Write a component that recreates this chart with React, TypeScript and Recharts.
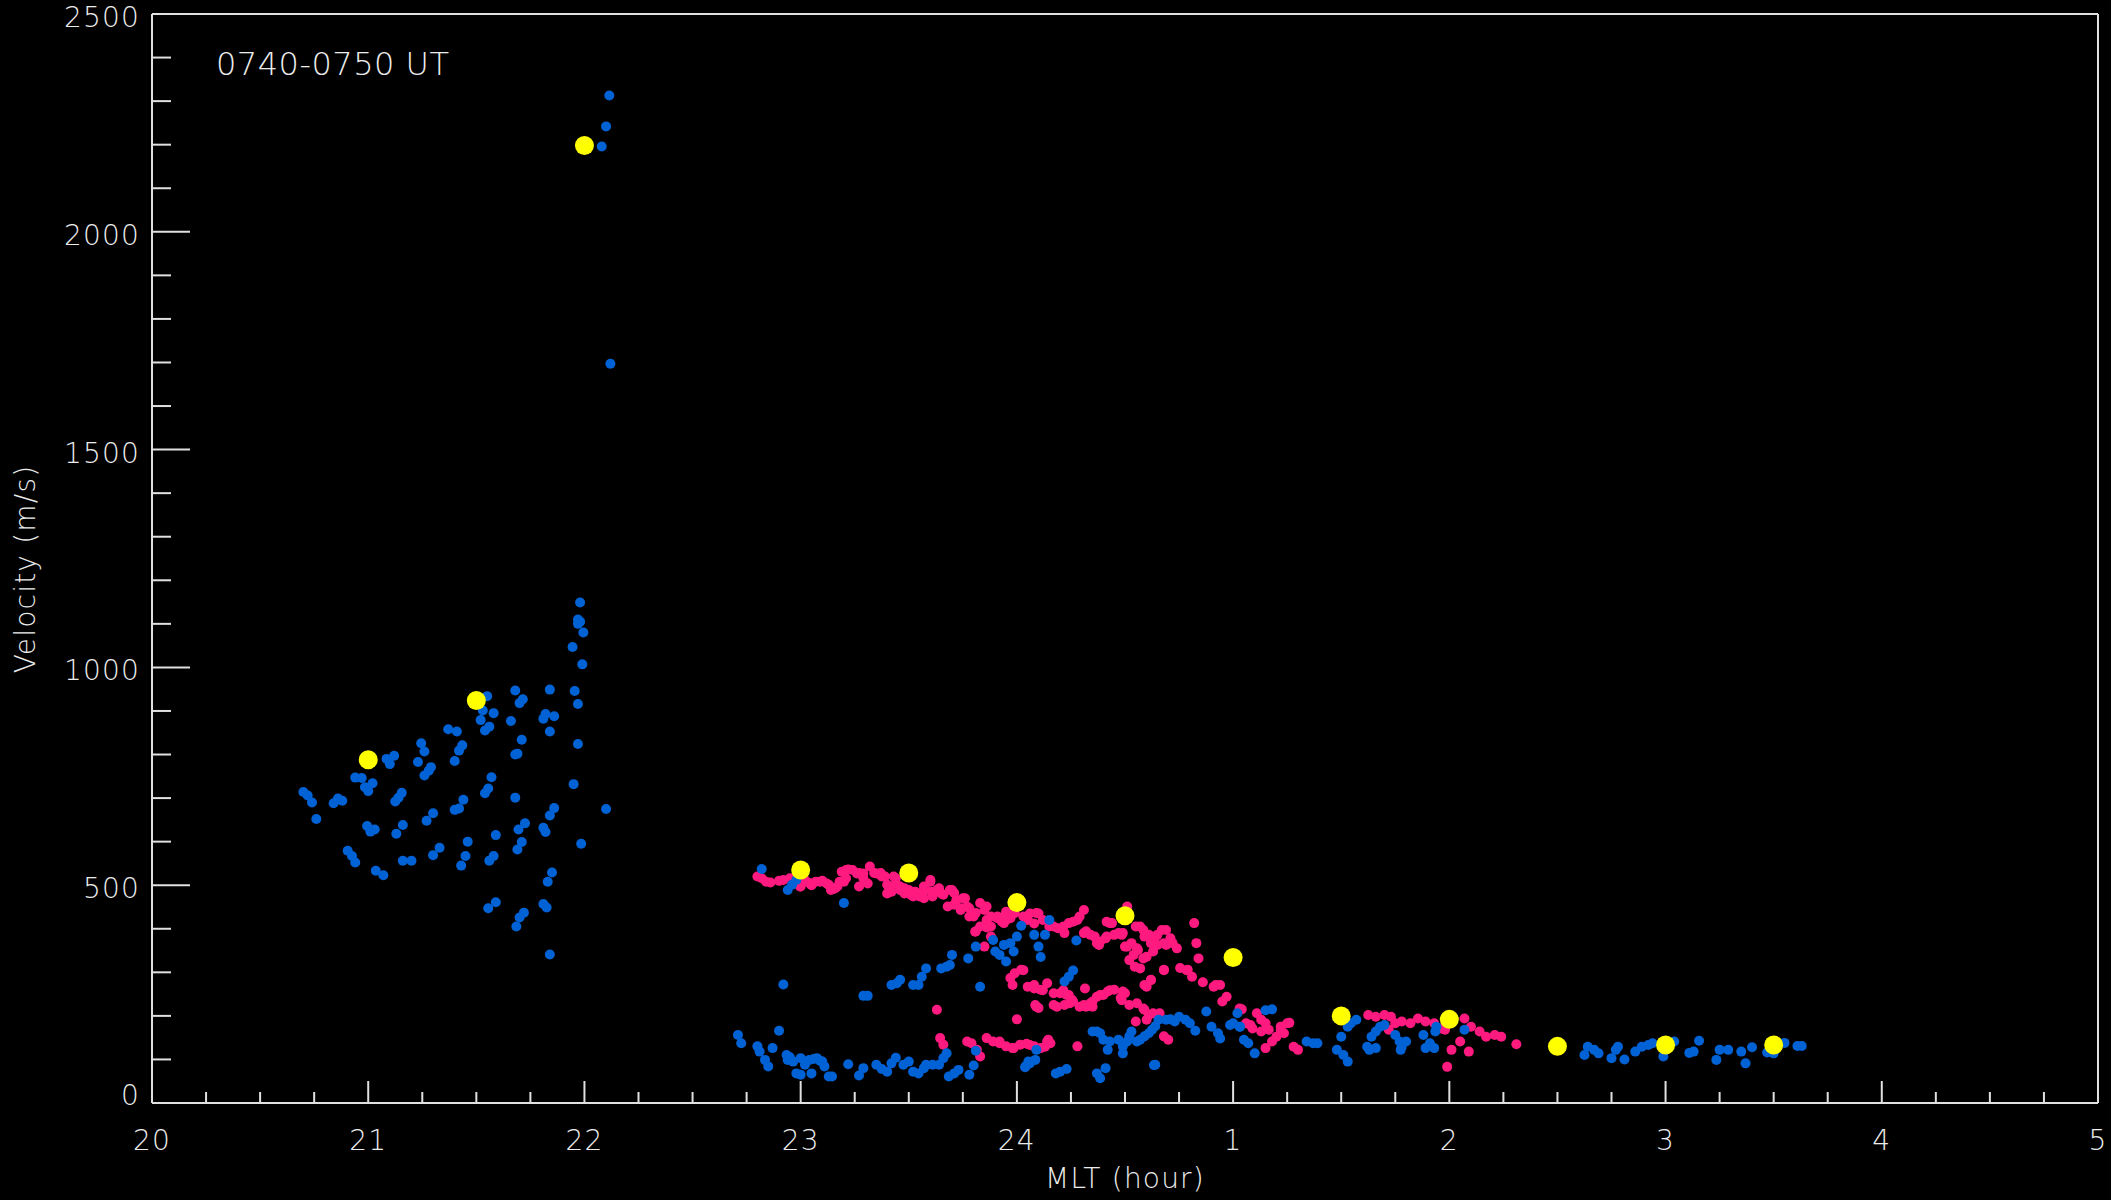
import { ScatterChart, Scatter, XAxis, YAxis } from 'recharts'

const BLUE = '#0062D4'
const PINK = '#FF1A80'
const YELLOW = '#FFFF00'
const AXIS = '#e0e0e0'
const FONT = '"DejaVu Sans", Verdana, sans-serif'

// x is MLT in hours, counted past 24 (25 = 01 MLT)
const X_MAJOR = [20, 21, 22, 23, 24, 25, 26, 27, 28, 29]
const X_LABELS = ['20', '21', '22', '23', '24', '1', '2', '3', '4', '5']
const X_TICKS = Array.from({ length: 37 }, (_, i) => 20 + i * 0.25)
const Y_TICKS = Array.from({ length: 26 }, (_, i) => i * 100)

// yellow: half-hour means
const MEAN_MLT = [21, 21.5, 22, 23, 23.5, 24, 24.5, 25, 25.5, 26, 26.5, 27, 27.5]
const MEAN_V = [788, 924, 2198, 535, 528, 460, 430, 334, 200, 192, 130, 133, 133]

// blue points [mlt, velocity]
const BLUE_DUSK = [
  [20.7, 714], [20.72, 706], [20.74, 690], [20.76, 652], [20.84, 688], [20.86, 699], [20.88, 694],
  [20.905, 579], [20.925, 567], [20.94, 552], [20.94, 747], [20.97, 746], [20.985, 725], [21.0, 716],
  [21.02, 734], [20.995, 636], [21.01, 623], [21.03, 628], [21.035, 533], [21.07, 523], [21.085, 790],
  [21.1, 778], [21.12, 797], [21.125, 692], [21.14, 701], [21.155, 712], [21.13, 618], [21.16, 638],
  [21.16, 556], [21.2, 556], [21.23, 783], [21.245, 826], [21.26, 807], [21.26, 752], [21.28, 763],
  [21.29, 771], [21.27, 648], [21.3, 665], [21.3, 569], [21.33, 586], [21.37, 858], [21.41, 853],
  [21.4, 785], [21.42, 809], [21.435, 821], [21.4, 673], [21.42, 676], [21.44, 696], [21.46, 600],
  [21.43, 545], [21.45, 567], [21.52, 879], [21.53, 901], [21.58, 895], [21.54, 855], [21.56, 864],
  [21.55, 934], [21.57, 748], [21.54, 711], [21.555, 722], [21.59, 615], [21.56, 556], [21.58, 567],
  [21.555, 447], [21.59, 461], [21.66, 877], [21.68, 947], [21.7, 918], [21.715, 927], [21.71, 834],
  [21.68, 800], [21.69, 802], [21.68, 701], [21.695, 628], [21.725, 642], [21.69, 582], [21.71, 599],
  [21.685, 405], [21.7, 426], [21.72, 437], [21.81, 882], [21.82, 893], [21.86, 888], [21.84, 949],
  [21.84, 853], [21.84, 660], [21.86, 677], [21.81, 632], [21.82, 622], [21.83, 508], [21.85, 529],
  [21.81, 457], [21.825, 449], [21.84, 341], [21.945, 1047], [21.955, 946], [21.97, 916], [21.97, 824],
  [21.95, 732], [21.985, 595], [21.98, 1149], [21.97, 1110], [21.98, 1105], [21.97, 1100],
  [21.995, 1080], [21.99, 1007], [22.1, 675],
]
const BLUE_SPIKE = [[22.08, 2196], [22.1, 2242], [22.115, 2313], [22.12, 1697]]
const BLUE_TOP = [[22.82, 537], [22.94, 489], [22.96, 501], [22.98, 512], [23.2, 459], [22.92, 272]]
const BLUE_LOW = [
  [22.71, 156], [22.725, 137], [22.8, 130], [22.81, 118], [22.835, 99], [22.85, 84], [22.87, 126],
  [22.9, 166], [22.935, 110], [22.94, 99], [22.95, 105], [22.965, 95], [22.98, 68], [23.0, 65],
  [23.0, 103], [23.02, 88], [23.04, 99], [23.06, 101], [23.075, 103], [23.09, 97], [23.05, 68],
  [23.1, 95], [23.11, 84], [23.13, 61], [23.145, 61], [23.22, 89], [23.27, 63], [23.29, 80],
  [23.35, 88], [23.375, 78], [23.4, 72], [23.42, 91], [23.44, 104], [23.475, 88], [23.5, 95],
  [23.52, 72], [23.545, 68], [23.57, 80], [23.58, 88], [23.61, 88], [23.64, 88], [23.66, 103],
  [23.675, 114], [23.685, 61], [23.71, 68], [23.73, 76], [23.78, 65], [23.8, 86], [23.81, 120],
  [24.04, 84], [24.06, 91], [24.085, 99], [24.09, 122], [24.18, 68], [24.2, 72], [24.23, 78],
  [24.37, 68], [24.385, 57], [24.41, 80], [24.64, 88],
]
const BLUE_RISE = [
  [23.29, 246], [23.31, 246], [23.42, 271], [23.445, 275], [23.46, 283], [23.52, 271], [23.545, 271],
  [23.56, 290], [23.58, 309], [23.65, 309], [23.675, 313], [23.69, 317], [23.7, 340], [23.775, 332],
  [23.81, 359], [23.83, 267], [23.89, 374], [23.9, 348], [23.92, 340], [23.94, 363], [23.95, 325],
  [23.97, 367], [23.985, 348], [24.0, 382], [24.02, 407], [24.08, 386], [24.1, 359], [24.11, 335],
  [24.13, 386], [24.15, 420], [24.22, 279], [24.24, 290], [24.26, 304], [24.275, 373],
]
const BLUE_DAWN = [
  [24.35, 164], [24.37, 164], [24.385, 160], [24.4, 145], [24.42, 122], [24.43, 141], [24.47, 145],
  [24.49, 114], [24.49, 130], [24.51, 141], [24.52, 153], [24.53, 164], [24.555, 141], [24.57, 145],
  [24.59, 153], [24.61, 160], [24.625, 168], [24.64, 176], [24.655, 191], [24.69, 191], [24.71, 192],
  [24.73, 187], [24.75, 198], [24.78, 191], [24.8, 183], [24.825, 166], [24.876, 210], [24.9, 175],
  [24.93, 160], [24.94, 148], [25.0, 183], [25.03, 175], [25.02, 206], [25.05, 145], [25.07, 137],
  [25.1, 114], [25.15, 213], [25.18, 215], [25.34, 141], [25.37, 137], [25.39, 137], [25.5, 152],
  [25.48, 122], [25.51, 110], [25.53, 95], [25.53, 175], [25.545, 183], [25.57, 191], [25.62, 129],
  [25.64, 152], [25.66, 164], [25.68, 175], [25.7, 179], [25.63, 122], [25.66, 126], [25.75, 156],
  [25.77, 141], [25.78, 129], [25.8, 141], [25.775, 122], [25.88, 156], [25.89, 126], [25.91, 137],
  [25.93, 126], [25.935, 164], [25.94, 175], [26.07, 168], [24.053, 95], [24.038, 82], [24.634, 87],
  [24.986, 179], [25.032, 175],
]
const BLUE_TAIL = [
  [26.625, 110], [26.64, 129], [26.67, 122], [26.69, 114], [26.75, 103], [26.77, 122], [26.78, 129],
  [26.81, 100], [26.86, 118], [26.89, 129], [26.92, 133], [26.94, 137], [26.99, 107], [27.04, 141],
  [27.11, 115], [27.13, 118], [27.155, 143], [27.235, 99], [27.25, 122], [27.29, 122], [27.35, 118],
  [27.37, 91], [27.4, 128], [27.47, 116], [27.5, 114], [27.55, 138], [27.61, 131], [27.63, 131],
]

// pink points [mlt, velocity]
const PINK_UPPER = [
  [22.8, 520], [22.82, 516], [22.86, 506], [22.9, 510], [22.92, 512], [22.95, 516], [23.0, 497],
  [23.04, 505], [23.07, 508], [23.1, 510], [23.13, 501], [23.15, 491], [23.17, 497], [23.2, 508],
  [23.19, 531], [23.21, 535], [23.24, 535], [23.27, 528], [23.29, 516], [23.32, 543], [23.34, 528],
  [23.37, 528], [23.39, 520], [23.4, 501], [23.42, 485], [23.44, 516], [23.46, 497], [23.48, 493],
  [23.51, 478], [23.53, 485], [23.55, 474], [23.57, 497], [23.6, 512], [23.61, 485], [23.64, 493],
  [23.66, 478], [23.68, 451], [23.69, 489], [23.71, 482], [23.72, 466], [23.74, 447], [23.76, 470],
  [23.78, 447], [23.8, 428], [23.81, 436], [23.83, 459], [23.86, 451], [23.88, 428], [23.91, 424],
  [23.93, 417], [23.95, 420], [23.99, 436], [24.05, 420], [24.09, 436], [24.12, 420], [24.15, 405],
  [24.19, 401], [24.22, 390], [24.24, 413], [24.28, 420], [24.31, 443], [24.32, 394], [24.36, 382],
  [24.38, 363], [24.41, 378], [24.43, 413], [24.45, 386], [24.49, 390], [24.5, 359], [24.51, 451],
  [24.53, 367], [24.54, 340], [24.555, 355], [24.57, 405], [24.59, 382], [24.6, 336], [24.62, 367],
  [24.63, 348], [24.65, 386], [24.67, 397], [24.69, 363], [24.71, 378], [24.74, 355], [24.755, 310],
  [24.79, 306], [24.82, 413], [24.83, 367], [24.84, 332], [23.81, 394], [23.83, 405], [23.86, 409],
  [23.85, 359],
]
const PINK_BAND = [
  [22.84, 508], [22.997, 497], [23.02, 512], [23.05, 500], [23.09, 508], [23.12, 504], [23.14, 489],
  [23.16, 493], [23.18, 508], [23.22, 536], [23.26, 527], [23.21, 516], [23.27, 497], [23.29, 527],
  [23.31, 504], [23.35, 527], [23.375, 520], [23.41, 489], [23.4, 481], [23.43, 520], [23.44, 504],
  [23.46, 489], [23.48, 481], [23.5, 489], [23.52, 474], [23.55, 481], [23.57, 470], [23.58, 489],
  [23.6, 508], [23.61, 474], [23.63, 489], [23.65, 481], [23.7, 489], [23.71, 455], [23.74, 443],
  [23.75, 470], [23.77, 451], [23.78, 428], [23.85, 443], [23.86, 420], [23.88, 405], [23.91, 428],
  [23.94, 413], [23.807, 393], [23.86, 403], [23.88, 382], [23.94, 428], [23.95, 439], [23.97, 424],
  [24.03, 428], [24.06, 435], [24.08, 412], [24.1, 435], [24.17, 405], [24.215, 405], [24.26, 416],
  [24.29, 428], [24.415, 416], [24.44, 413], [24.31, 390], [24.34, 386], [24.37, 367], [24.385, 370],
  [24.415, 382], [24.47, 390], [24.485, 386], [24.51, 359], [24.56, 351], [24.585, 332], [24.52, 328],
  [24.545, 313], [24.57, 309], [24.55, 405], [24.585, 397], [24.61, 386], [24.64, 382], [24.65, 363],
  [24.68, 367], [24.69, 397], [24.72, 367], [24.68, 305], [24.785, 305], [24.81, 290], [24.62, 282],
  [24.6, 267], [24.91, 267], [25.03, 217],
]
const PINK_MID = [
  [23.97, 287], [23.99, 298], [24.02, 306], [24.05, 267], [24.08, 271], [24.11, 260], [24.14, 275],
  [24.17, 252], [24.2, 252], [24.23, 248], [24.26, 233], [24.29, 221], [24.32, 221], [24.35, 233],
  [24.385, 248], [24.42, 256], [24.45, 260], [24.48, 241], [24.5, 252], [24.52, 225], [24.555, 229],
  [24.59, 214], [24.61, 202], [24.63, 206], [24.66, 206], [24.085, 225], [24.1, 218], [24.185, 221],
  [24.22, 225], [24.0, 192], [23.63, 214], [24.59, 271], [24.62, 283], [24.68, 306], [24.55, 187],
  [23.98, 271], [24.03, 305], [24.08, 263], [24.12, 259], [24.215, 259], [24.24, 248], [24.315, 263],
  [24.37, 244], [24.4, 248], [24.43, 259], [24.49, 256], [24.485, 236], [24.09, 221], [24.17, 225],
  [24.245, 229], [24.31, 225], [24.35, 221], [24.255, 237], [24.34, 229], [24.585, 217], [24.6, 191],
]
const PINK_LOW = [
  [23.645, 149], [23.66, 134], [23.77, 141], [23.79, 137], [23.815, 122], [23.83, 107], [23.86, 149],
  [23.89, 141], [23.92, 137], [23.95, 130], [23.985, 126], [24.015, 134], [24.045, 136], [24.08, 130],
  [24.11, 126], [24.14, 141], [24.155, 137], [24.28, 130], [24.68, 153], [24.7, 145], [23.92, 141],
  [23.98, 126], [24.06, 133], [24.13, 129], [24.145, 145],
]
const PINK_DAWN = [
  [24.86, 277], [24.92, 271], [24.94, 271], [24.95, 233], [24.97, 244], [25.04, 215], [25.08, 179],
  [25.11, 206], [25.13, 164], [25.15, 183], [25.165, 168], [25.18, 141], [25.2, 152], [25.22, 175],
  [25.235, 160], [25.26, 184], [25.13, 191], [25.22, 168], [25.25, 183], [25.15, 126], [25.28, 129],
  [25.3, 122], [25.625, 202], [25.66, 198], [25.7, 202], [25.73, 198], [25.75, 183], [25.78, 187],
  [25.72, 168], [25.82, 183], [25.855, 194], [25.89, 187], [25.93, 183], [25.96, 171], [25.98, 168],
  [26.01, 122], [26.05, 141], [26.09, 118], [25.99, 83], [26.07, 194], [26.1, 175], [26.14, 164],
  [26.17, 152], [26.21, 156], [26.24, 152], [26.31, 135], [25.06, 183], [25.09, 171],
]

const toPts = (arr: number[][]) => arr.map(([x, y]) => ({ x, y }))
const bluePts = toPts([...BLUE_DUSK, ...BLUE_SPIKE, ...BLUE_TOP, ...BLUE_LOW, ...BLUE_RISE, ...BLUE_DAWN, ...BLUE_TAIL])
const pinkPts = toPts([...PINK_UPPER, ...PINK_BAND, ...PINK_MID, ...PINK_LOW, ...PINK_DAWN])
const meanPts = MEAN_MLT.map((x, i) => ({ x, y: MEAN_V[i] }))

const dot = (fill: string, r: number) => (p: any) => <circle cx={p.cx} cy={p.cy} r={r} fill={fill} />

const txt = { fontFamily: FONT, fontSize: 28, fontWeight: 300, fill: '#ececec', letterSpacing: 1.2 }

const BottomTick = (p: any) => {
  const i = X_MAJOR.indexOf(p.payload.value)
  return (
    <g>
      <line x1={p.x} x2={p.x} y1={p.y} y2={p.y - (i >= 0 ? 22 : 11)} stroke={AXIS} strokeWidth={2} />
      {i >= 0 && <text x={p.x} y={p.y + 47} textAnchor="middle" {...txt}>{X_LABELS[i]}</text>}
    </g>
  )
}
const TopTick = (p: any) => {
  const major = X_MAJOR.includes(p.payload.value)
  return <line x1={p.x} x2={p.x} y1={p.y} y2={p.y + (major ? 22 : 11)} stroke={AXIS} strokeWidth={2} />
}
const LeftTick = (p: any) => {
  const v = p.payload.value
  const major = v % 500 === 0
  return (
    <g>
      <line x1={p.x} x2={p.x + (major ? 38 : 19)} y1={p.y} y2={p.y} stroke={AXIS} strokeWidth={2} />
      {major && <text x={p.x - 12} y={p.y + (v === 0 ? 2 : 13)} textAnchor="end" {...txt}>{v}</text>}
    </g>
  )
}
const RightTick = (p: any) => {
  const major = p.payload.value % 500 === 0
  return <line x1={p.x} x2={p.x - (major ? 38 : 19)} y1={p.y} y2={p.y} stroke={AXIS} strokeWidth={2} />
}

export default function App() {
  return (
    <div style={{ position: 'fixed', left: 0, top: 0, width: 2111, height: 1200, background: '#000' }}>
      <ScatterChart width={2111} height={1200} margin={{ top: 13, right: 12, bottom: 0, left: 0 }}>
        <XAxis dataKey="x" type="number" domain={[20, 29]} ticks={X_TICKS} interval={0} allowDataOverflow
          height={97} tickSize={0} tickMargin={0} tickLine={false} tick={<BottomTick />}
          axisLine={{ stroke: AXIS, strokeWidth: 2 }} />
        <XAxis xAxisId="top" orientation="top" type="number" domain={[20, 29]} ticks={X_TICKS} interval={0}
          height={1} tickSize={0} tickMargin={0} tickLine={false} tick={<TopTick />}
          axisLine={{ stroke: AXIS, strokeWidth: 2 }} />
        <YAxis dataKey="y" type="number" domain={[0, 2500]} ticks={Y_TICKS} interval={0} allowDataOverflow
          width={152} tickSize={0} tickMargin={0} tickLine={false} tick={<LeftTick />}
          axisLine={{ stroke: AXIS, strokeWidth: 2 }} />
        <YAxis yAxisId="right" orientation="right" type="number" domain={[0, 2500]} ticks={Y_TICKS} interval={0}
          width={1} tickSize={0} tickMargin={0} tickLine={false} tick={<RightTick />}
          axisLine={{ stroke: AXIS, strokeWidth: 2 }} />
        <Scatter data={pinkPts} shape={dot(PINK, 5)} isAnimationActive={false} />
        <Scatter data={bluePts} shape={dot(BLUE, 5)} isAnimationActive={false} />
        <Scatter data={meanPts} shape={dot(YELLOW, 9.5)} isAnimationActive={false} />
      </ScatterChart>
      <svg width={2111} height={1200} style={{ position: 'absolute', left: 0, top: 0, pointerEvents: 'none' }}>
        <text x={216} y={75} {...txt} fontSize={32} letterSpacing={0.5}>0740-0750 UT</text>
        <text x={1125} y={1188} textAnchor="middle" {...txt}>MLT (hour)</text>
        <text x={35} y={569} textAnchor="middle" transform="rotate(-90 35 569)" {...txt}>Velocity (m/s)</text>
      </svg>
    </div>
  )
}
